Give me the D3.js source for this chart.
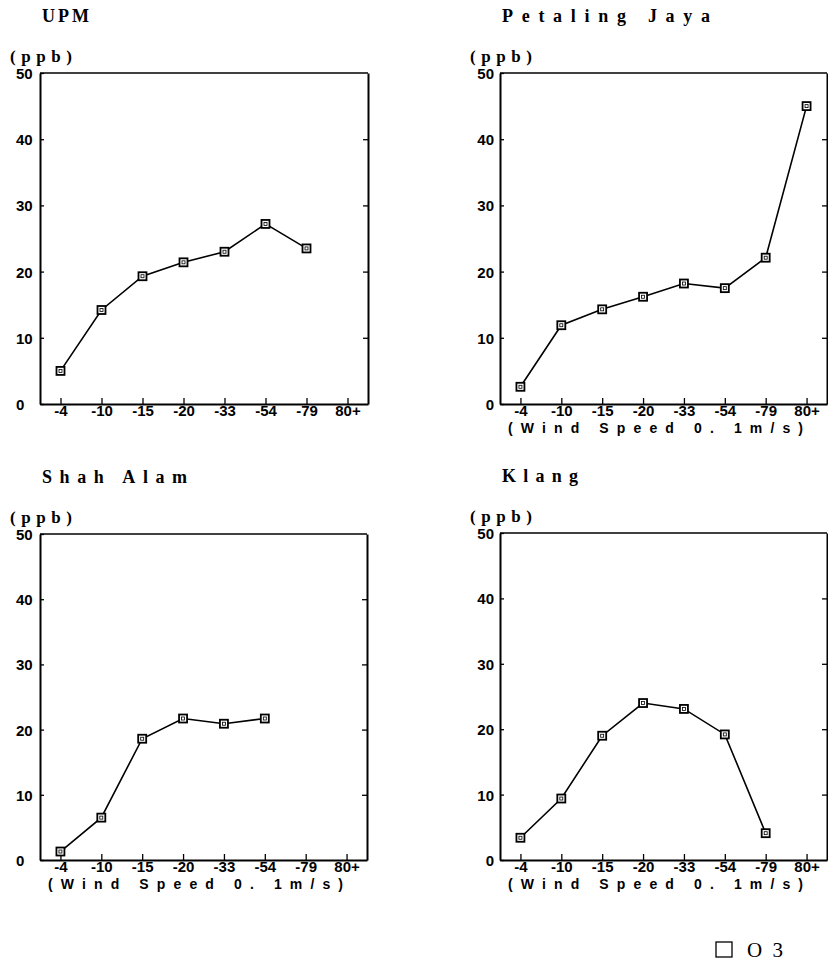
<!DOCTYPE html>
<html>
<head>
<meta charset="utf-8">
<script src="https://cdn.jsdelivr.net/npm/d3@7"></script>
<style>
  html, body { margin: 0; padding: 0; background: #fff; }
  svg { display: block; }
</style>
</head>
<body>
<svg id="chart" width="828" height="965"></svg>
<script>
// Wind-speed classes (0.1 m/s) shared by all four stations
const categories = ["-4", "-10", "-15", "-20", "-33", "-54", "-79", "80+"];
const yTicks = [0, 10, 20, 30, 40, 50];

// O3 concentration (ppb) per wind-speed class; null = no observation
const upmValues      = [5.0, 14.2, 19.3, 21.4, 23.0, 27.2, 23.5, null];
const petalingValues = [2.6, 11.9, 14.3, 16.2, 18.2, 17.5, 22.1, 45.0];
const shahAlamValues = [1.3, 6.5, 18.6, 21.7, 20.9, 21.7, null, null];
const klangValues    = [3.4, 9.4, 19.0, 24.0, 23.1, 19.2, 4.1, null];

const stationNames = ["UPM", "Petaling Jaya", "Shah Alam", "Klang"];
const unitLabel = "(ppb)";
const axisTitle = "(Wind Speed 0. 1m/s)";
const legendLabel = "O3";

const panels = [
  { name: stationNames[0], values: upmValues,      x0: 40,  x1: 368, y0: 73,  y1: 404, titleW: 47,  showAxisTitle: false, labelAlign: "start" },
  { name: stationNames[1], values: petalingValues, x0: 500, x1: 827, y0: 73,  y1: 404, titleW: 208, showAxisTitle: true,  labelAlign: "end" },
  { name: stationNames[2], values: shahAlamValues, x0: 40,  x1: 367, y0: 534, y1: 860, titleW: 145, showAxisTitle: true,  labelAlign: "start" },
  { name: stationNames[3], values: klangValues,    x0: 500, x1: 827, y0: 533, y1: 860, titleW: 76,  showAxisTitle: true,  labelAlign: "end" }
];

const svg = d3.select("#chart");
const tickFont = "'Liberation Sans', Arial, sans-serif";
const serifFont = "'Liberation Serif', 'Times New Roman', serif";

panels.forEach(p => {
  const g = svg.append("g");

  const x = d3.scalePoint().domain(categories).range([p.x0, p.x1]).padding(0.5);
  const y = d3.scaleLinear().domain([0, 50]).range([p.y1, p.y0]);

  // station title
  g.append("text")
    .attr("x", p.x0 + 2).attr("y", p.y0 - 51)
    .attr("textLength", p.titleW).attr("lengthAdjust", "spacing")
    .style("font-family", serifFont).style("font-weight", "bold").style("font-size", "18px")
    .text(p.name);

  // unit label
  g.append("text")
    .attr("x", p.x0 - 30).attr("y", p.y0 - 11)
    .attr("textLength", 62).attr("lengthAdjust", "spacing")
    .style("font-family", serifFont).style("font-weight", "bold").style("font-size", "17px")
    .text(unitLabel);

  // left axis with inward ticks
  const left = g.append("g")
    .attr("transform", `translate(${p.x0},0)`)
    .call(d3.axisLeft(y).tickValues(yTicks).tickSizeInner(-4).tickSizeOuter(0).tickPadding(0));
  left.select(".domain").attr("stroke", "#000").attr("stroke-width", 2);
  left.selectAll(".tick line").attr("stroke", "#000").attr("stroke-width", 1.3);
  left.selectAll(".tick text")
    .attr("x", p.labelAlign === "start" ? -24 : -6)
    .attr("text-anchor", p.labelAlign)
    .attr("dy", "0.36em")
    .style("font-family", tickFont).style("font-weight", "bold").style("font-size", "15px")
    .attr("fill", "#000");

  // right frame with inward ticks
  const right = g.append("g")
    .attr("transform", `translate(${p.x1},0)`)
    .call(d3.axisRight(y).tickValues(yTicks.slice(1, -1)).tickSizeInner(-5).tickSizeOuter(0).tickFormat(""));
  right.select(".domain").attr("stroke", "#000").attr("stroke-width", 2);
  right.selectAll(".tick line").attr("stroke", "#000").attr("stroke-width", 1.3);

  // top frame
  g.append("line")
    .attr("x1", p.x0).attr("x2", p.x1).attr("y1", y(50)).attr("y2", y(50))
    .attr("stroke", "#000").attr("stroke-width", 1.6);

  // bottom axis with upward ticks
  const bottom = g.append("g")
    .attr("transform", `translate(0,${p.y1})`)
    .call(d3.axisBottom(x).tickSizeInner(-6).tickSizeOuter(0).tickPadding(0));
  bottom.select(".domain").attr("stroke", "#000").attr("stroke-width", 2);
  bottom.selectAll(".tick line").attr("stroke", "#000").attr("stroke-width", 1.3);
  bottom.selectAll(".tick text")
    .attr("y", 12).attr("dy", 0)
    .style("font-family", tickFont).style("font-weight", "bold").style("font-size", "15px")
    .attr("fill", "#000");

  if (p.showAxisTitle) {
    g.append("text")
      .attr("x", p.x0 + 8).attr("y", p.y1 + 29)
      .attr("textLength", 295).attr("lengthAdjust", "spacing")
      .style("font-family", tickFont).style("font-weight", "bold").style("font-size", "14px")
      .text(axisTitle);
  }

  // data line and square markers
  const pts = categories.map((c, i) => ({ c, v: p.values[i] })).filter(d => d.v != null);
  const line = d3.line().x(d => x(d.c)).y(d => y(d.v));
  g.append("path").datum(pts)
    .attr("d", line).attr("fill", "none")
    .attr("stroke", "#000").attr("stroke-width", 1.6);

  const s = 8;
  g.selectAll("rect.marker").data(pts).join("rect")
    .attr("class", "marker")
    .attr("x", d => x(d.c) - s / 2).attr("y", d => y(d.v) - s / 2)
    .attr("width", s).attr("height", s)
    .attr("fill", "#fff").attr("stroke", "#000").attr("stroke-width", 1.8);
  g.selectAll("rect.inner").data(pts).join("rect")
    .attr("class", "inner")
    .attr("x", d => x(d.c) - 1.5).attr("y", d => y(d.v) - 1.5)
    .attr("width", 3).attr("height", 3)
    .attr("fill", "none").attr("stroke", "#000").attr("stroke-width", 0.8);
});

// legend
const legend = svg.append("g");
legend.append("rect")
  .attr("x", 716).attr("y", 942).attr("width", 16).attr("height", 15)
  .attr("fill", "#fff").attr("stroke", "#000").attr("stroke-width", 1.3);
legend.append("text")
  .attr("x", 747).attr("y", 957)
  .attr("textLength", 36).attr("lengthAdjust", "spacing")
  .style("font-family", serifFont).style("font-size", "21px")
  .text(legendLabel);
</script>
</body>
</html>
